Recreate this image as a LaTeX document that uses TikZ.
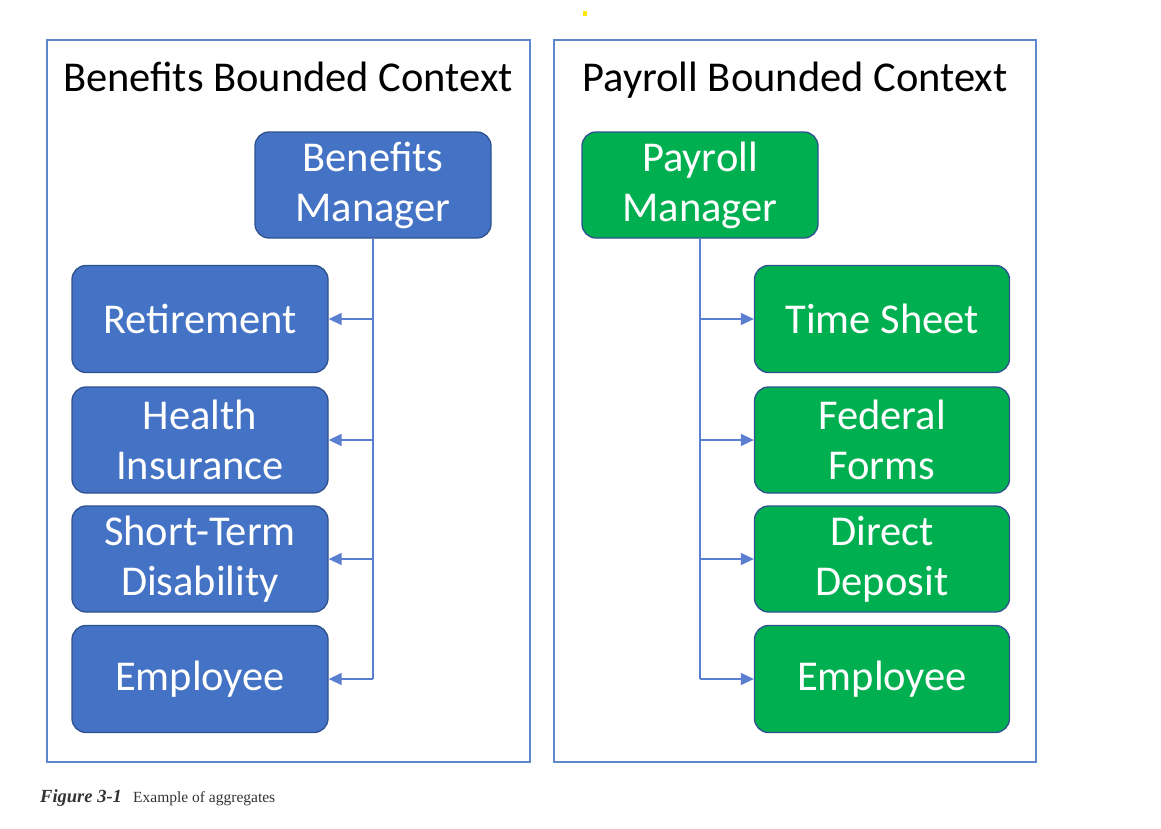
\documentclass[tikz,border=0pt]{standalone}
\usepackage{fontspec}
\setmainfont{Carlito}
\newfontfamily\capfont{Liberation Serif}
\usetikzlibrary{arrows.meta}
\definecolor{frameblue}{HTML}{4472C4}
\definecolor{boxblue}{HTML}{4472C4}
\definecolor{boxgreen}{HTML}{00B050}
\definecolor{edgeblue}{HTML}{2F528F}
\definecolor{lineblue}{HTML}{5B7FD0}
\definecolor{capgray}{HTML}{333333}
\tikzset{
  frame/.style={draw=frameblue!85, line width=1.5pt},
  bluebox/.style={draw=edgeblue, line width=1.3pt, fill=boxblue, rounded corners=14pt, text=white, align=center, font=\fontsize{42.5}{50}\selectfont, inner sep=0pt},
  greenbox/.style={bluebox, fill=boxgreen},
  conn/.style={draw=lineblue, line width=1.4pt},
  arr/.style={conn, -{Triangle[length=13pt,width=12pt]}},
  title/.style={font=\fontsize{42.5}{50}\selectfont, text=black, inner sep=0pt, anchor=base}
}
\begin{document}
\begin{tikzpicture}[x=1pt,y=-1pt]
\useasboundingbox (0,0) rectangle (1161,828);
\fill[yellow!90!orange] (583,11) rectangle (587,16);
% frames
\draw[frame] (47,40) rectangle (530,762);
\draw[frame] (554,40) rectangle (1036,762);
\node[title] (t1) at (288,91) {Benefits Bounded Context};
\node[title] (t2) at (795,91) {Payroll Bounded Context};
% blue nodes
\node[bluebox, minimum width=236pt, minimum height=106pt] (bm) at (373,185) {Benefits\\Manager};
\node[bluebox, minimum width=256pt, minimum height=107pt] (ret) at (200,319) {Retirement};
\node[bluebox, minimum width=256pt, minimum height=106pt] (hi) at (200,440) {Health\\Insurance};
\node[bluebox, minimum width=256pt, minimum height=106pt] (std) at (200,559) {Short-Term\\Disability};
\node[bluebox, minimum width=256pt, minimum height=107pt] (emp1) at (200,679) {Employee};
% green nodes
\node[greenbox, minimum width=236pt, minimum height=106pt] (pm) at (700,185) {Payroll\\Manager};
\node[greenbox, minimum width=255pt, minimum height=107pt] (ts) at (882,319) {Time Sheet};
\node[greenbox, minimum width=255pt, minimum height=106pt] (ff) at (882,440) {Federal\\Forms};
\node[greenbox, minimum width=255pt, minimum height=106pt] (dd) at (882,559) {Direct\\Deposit};
\node[greenbox, minimum width=255pt, minimum height=107pt] (emp2) at (882,679) {Employee};
% connectors left
\coordinate (lb) at (bm.south |- emp1.east);
\draw[conn] (bm.south) -- (lb);
\draw[arr] (bm.south |- ret.east) -- (ret.east);
\draw[arr] (bm.south |- hi.east) -- (hi.east);
\draw[arr] (bm.south |- std.east) -- (std.east);
\draw[arr] (lb) -- (emp1.east);
% connectors right
\coordinate (rb) at (pm.south |- emp2.west);
\draw[conn] (pm.south) -- (rb);
\draw[arr] (pm.south |- ts.west) -- (ts.west);
\draw[arr] (pm.south |- ff.west) -- (ff.west);
\draw[arr] (pm.south |- dd.west) -- (dd.west);
\draw[arr] (rb) -- (emp2.west);
% caption
\node[anchor=base west, inner sep=0pt, text=capgray, font=\capfont\bfseries\itshape\fontsize{18.5}{20}\selectfont] (cap1) at (40,802) {Figure 3-1};
\node[anchor=base west, inner sep=0pt, text=capgray, font=\capfont\fontsize{15.5}{18}\selectfont] (cap2) at (133,802) {Example of aggregates};
\end{tikzpicture}
\end{document}
